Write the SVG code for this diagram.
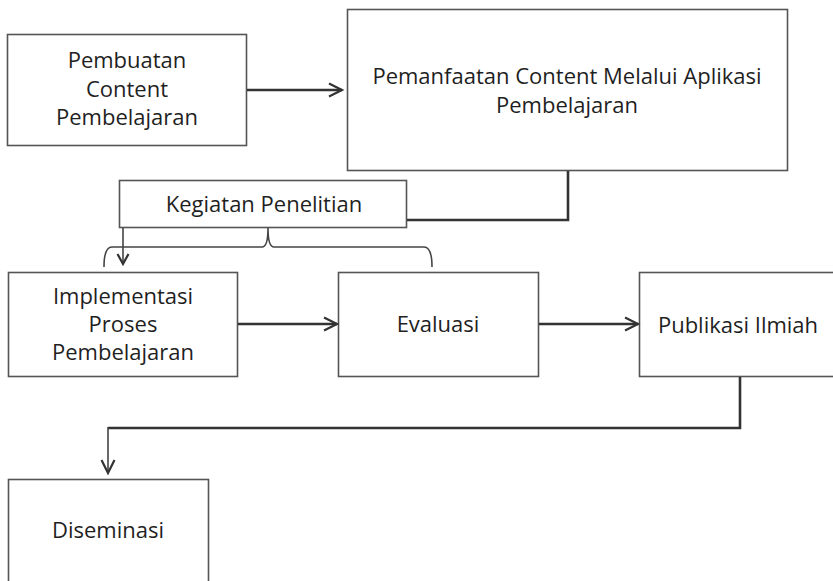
<svg xmlns="http://www.w3.org/2000/svg" width="833" height="581" viewBox="0 0 833 581">
<defs>
<marker id="arr" markerUnits="userSpaceOnUse" markerWidth="18" markerHeight="18" refX="14" refY="7" orient="auto" overflow="visible">
<path d="M1,0.5 L14,7 L1,13.5" fill="none" stroke="#333" stroke-width="2.2"/>
</marker>
<marker id="arrs" markerUnits="userSpaceOnUse" markerWidth="14" markerHeight="14" refX="11" refY="6" orient="auto" overflow="visible">
<path d="M1,0.5 L11,6 L1,11.5" fill="none" stroke="#333" stroke-width="2.2"/>
</marker>
</defs>
<style>
.box{fill:#fff;stroke:#555;stroke-width:1.6}
.t{font-family:"Open Sans","Noto Sans",sans-serif;font-size:22px;font-weight:500;fill:#1f1f1f;text-anchor:middle}
.c{fill:none;stroke:#333;stroke-width:2.6}
.ct{fill:none;stroke:#444;stroke-width:1.6}
</style>
<rect width="833" height="581" fill="#fff"/>
<g id="pembuatan">
<rect class="box" x="7.5" y="34.5" width="239" height="111"/>
<text class="t" x="127" y="68">Pembuatan</text>
<text class="t" x="127" y="97">Content</text>
<text class="t" x="127" y="125">Pembelajaran</text>
</g>
<g id="pemanfaatan">
<rect class="box" x="347.5" y="9.5" width="440" height="161"/>
<text class="t" x="567" y="84">Pemanfaatan Content Melalui Aplikasi</text>
<text class="t" x="567" y="113">Pembelajaran</text>
</g>
<g id="kegiatan">
<rect class="box" x="119.5" y="180.5" width="287" height="47"/>
<text class="t" x="264" y="212">Kegiatan Penelitian</text>
</g>
<g id="implementasi">
<rect class="box" x="8.5" y="272.5" width="229" height="104"/>
<text class="t" x="123" y="304">Implementasi</text>
<text class="t" x="123" y="332">Proses</text>
<text class="t" x="123" y="360">Pembelajaran</text>
</g>
<g id="evaluasi">
<rect class="box" x="338.5" y="272.5" width="200" height="104"/>
<text class="t" x="438" y="332">Evaluasi</text>
</g>
<g id="publikasi">
<rect class="box" x="639.5" y="272.5" width="200" height="104"/>
<text class="t" x="738" y="333">Publikasi Ilmiah</text>
</g>
<g id="diseminasi">
<rect class="box" x="8.5" y="479.5" width="200" height="110"/>
<text class="t" x="108" y="538">Diseminasi</text>
</g>
<g id="connectors">
<line class="c" x1="247" y1="90" x2="342" y2="90" marker-end="url(#arr)"/>
<path class="c" d="M568,171 V220 H407"/>
<path class="ct" d="M104,267 Q104,247 112,247 L262,247 Q268,247 268,228 Q268,247 274,247 L424,247 Q432,247 432,267"/>
<line class="ct" x1="123" y1="228" x2="123" y2="264" stroke-width="2" marker-end="url(#arrs)"/>
<line class="c" x1="238" y1="324" x2="337" y2="324" marker-end="url(#arr)"/>
<line class="c" x1="539" y1="324" x2="638" y2="324" marker-end="url(#arr)"/>
<path class="c" d="M740,377 V428 H108"/>
<line class="ct" x1="108" y1="427" x2="108" y2="473" stroke-width="2" marker-end="url(#arr)"/>
</g>
</svg>
